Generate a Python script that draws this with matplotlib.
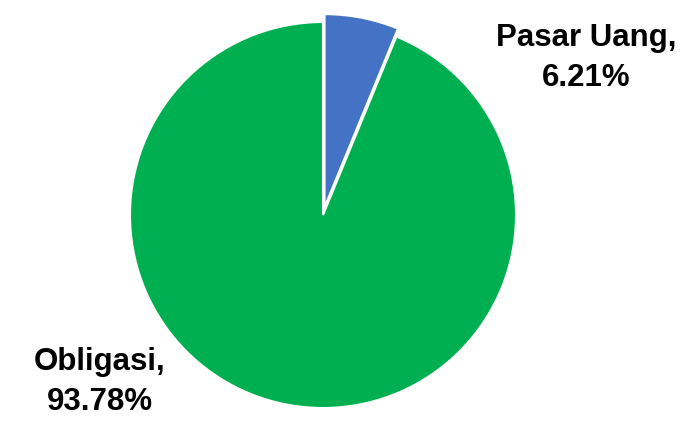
import matplotlib
matplotlib.use("Agg")
import matplotlib.pyplot as plt

labels = ["Pasar Uang", "Obligasi"]
values = [6.21, 93.78]
colors = ["#4472C4", "#00B050"]

fig = plt.figure(figsize=(6.87, 4.26), dpi=100)
ax = fig.add_axes([0, 0, 1, 1])
ax.set_aspect("equal")
ax.axis("off")

# explode is in data units here (pixels)
wedges, _ = ax.pie(values, colors=colors, startangle=90, counterclock=False,
                   center=(323, 211), radius=193, explode=[8, 0],
                   wedgeprops=dict(edgecolor="white", linewidth=1.5))
ax.set_xlim(0, 687)
ax.set_ylim(0, 426)

label_pos = [(586, 368), (100, 44)]
for lab, val, (lx, ly) in zip(labels, values, label_pos):
    ax.text(lx, ly, f"{lab},\n{val:.2f}%", ha="center", va="center",
            fontsize=22.5, fontweight="bold", family="Liberation Sans",
            linespacing=1.45)

fig.savefig("out.png", dpi=100)
